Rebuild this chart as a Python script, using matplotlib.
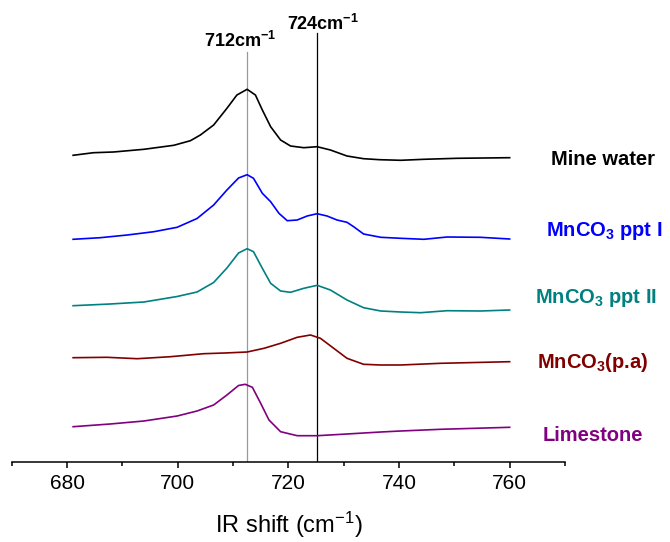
import matplotlib
matplotlib.use("Agg")
import matplotlib.pyplot as plt
from matplotlib.ticker import MultipleLocator

plt.rcParams["font.family"] = ["Liberation Sans", "DejaVu Sans"]
plt.rcParams["mathtext.default"] = "regular"

# Spectra (wavenumber, stacked intensity in arbitrary units)
mine_x = [681.1, 684.8, 688.4, 693.9, 699.3, 702.3, 704.1, 706.5, 708.9, 710.7,
          712.55, 714.05, 715.3, 716.8, 718.6, 720.4, 722.8, 725.2, 727.6, 730.6,
          733.6, 736.5, 740.3, 744.5, 750.5, 760.0]
mine_y = [306.7, 309.3, 310, 312.7, 316.7, 321.3, 327, 337, 353.7, 367,
          372.7, 367, 352, 335.3, 322, 316, 314.3, 315.3, 312, 306,
          303.3, 302.3, 301.7, 302.7, 303.7, 304.3]

ppt1_x = [681.1, 686.0, 690.9, 695.7, 699.9, 703.5, 706.5, 708.9, 711.0, 712.55,
          713.7, 715.3, 716.8, 718.3, 719.8, 721.6, 723.4, 725.2, 727.0, 728.8,
          730.6, 731.8, 733.6, 736.7, 740.3, 744.5, 748.7, 754.7, 760.0]
ppt1_y = [222.7, 224.3, 227, 230.3, 234.7, 243.5, 257, 272, 284, 287.3,
          283.7, 268.7, 260.3, 248.7, 241.3, 242, 246, 248.3, 246, 242,
          239.7, 235.3, 228, 224.7, 223.7, 222.7, 225, 224.7, 223]

ppt2_x = [681.1, 687.8, 693.9, 699.9, 703.5, 706.5, 708.9, 711.0, 712.55, 713.7,
          715.3, 716.8, 718.6, 720.4, 722.8, 725.2, 727.6, 730.6, 733.6, 736.7,
          740.3, 743.9, 748.7, 754.7, 760.0]
ppt2_y = [156.3, 158, 160, 165.5, 170, 179.5, 194, 209, 213.3, 210.3,
          193.7, 178.7, 171, 169.7, 173.7, 176.7, 172, 162, 154.3, 151,
          150, 149.3, 151.3, 151, 152]

pa_x = [681.1, 687.2, 692.7, 698.7, 704.7, 708.5, 712.55, 715.6, 718.6, 721.6,
        724.0, 725.8, 728.2, 730.6, 733.6, 736.7, 740.3, 747.5, 760.0]
pa_y = [104.3, 104.7, 103.3, 105.3, 108.3, 109, 110, 113.7, 118.7, 124.7,
        127, 123.7, 113.7, 103.7, 97.7, 97, 97, 98.7, 100.3]

lime_x = [681.1, 687.8, 693.9, 699.9, 703.5, 706.5, 708.9, 711.0, 712.2, 713.5,
          715.0, 716.5, 718.6, 721.6, 725.2, 730.6, 736.7, 740.3, 747.5, 760.0]
lime_y = [35.3, 38, 41, 46, 51, 57, 67, 76.5, 77.7, 74.7,
          58.7, 42, 30.3, 26.3, 26.3, 28, 30, 31, 32.7, 34.7]

series = [
    (mine_x, mine_y, "black", "Mine water"),
    (ppt1_x, ppt1_y, "#0000ff", "MnCO$_3$ ppt I"),
    (ppt2_x, ppt2_y, "#008080", "MnCO$_3$ ppt II"),
    (pa_x, pa_y, "#800000", "MnCO$_3$(p.a)"),
    (lime_x, lime_y, "#800080", "Limestone"),
]
label_pos = [(767.4, 297), (766.5, 226), (764.5, 159.3), (765.0, 93.7), (766.0, 21.3)]

ref_lines = [712.55, 725.2]
ref_tops = [410, 429]
ref_colors = ["#999999", "black"]
ref_texts = ["712cm$^{-1}$", "724cm$^{-1}$"]
ref_text_pos = [(704.7, 415.3), (719.8, 432)]

fig = plt.figure(figsize=(6.7, 5.42), dpi=100)
ax = fig.add_axes([0.01746, 0.1476, 0.8258, 0.8524])

for xv, top, c in zip(ref_lines, ref_tops, ref_colors):
    ax.plot([xv, xv], [0, top], color=c, lw=0.9, zorder=1)
for (tx, ty), t in zip(ref_text_pos, ref_texts):
    ax.text(tx, ty, t, fontsize=13, fontweight="bold", ha="left", va="baseline")

for (x, y, c, name), (lx, ly) in zip(series, label_pos):
    ax.plot(x, y, color=c, lw=1.2, zorder=2, solid_joinstyle="round")
    ax.text(lx, ly, name, color=c, fontsize=14.5, fontweight="bold",
            ha="left", va="baseline", clip_on=False)

ax.set_xlim(670, 770)
ax.set_ylim(0, 462)
for s in ["left", "right", "top"]:
    ax.spines[s].set_visible(False)
ax.spines["bottom"].set_linewidth(1.1)
ax.set_yticks([])
ax.xaxis.set_major_locator(MultipleLocator(20))
ax.xaxis.set_minor_locator(MultipleLocator(10))
ax.tick_params(axis="x", which="major", length=4.5, width=1.1, labelsize=15, pad=4)
ax.tick_params(axis="x", which="minor", length=3, width=1.1)
ax.set_xlabel("IR shift (cm$^{-1}$)", fontsize=17, labelpad=12)

fig.savefig("out.png", dpi=100)
